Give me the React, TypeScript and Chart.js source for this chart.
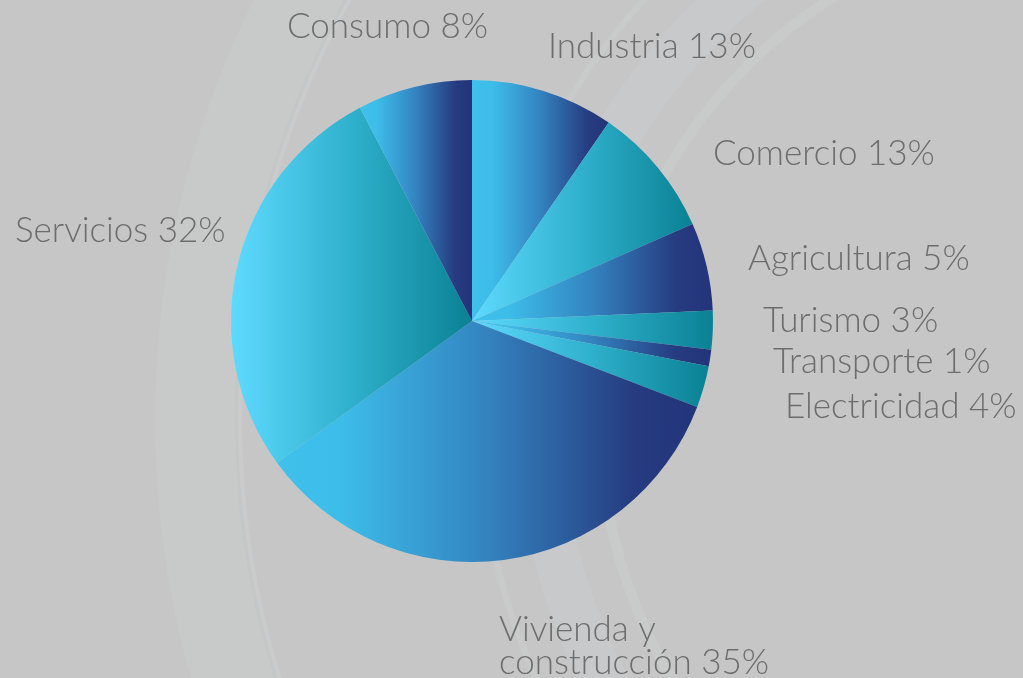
import React, { useEffect, useRef } from "react";
import { Chart, registerables } from "chart.js";

Chart.register(...registerables);

// ---- data ----
const categories = [
  "Industria",
  "Comercio",
  "Agricultura",
  "Turismo",
  "Transporte",
  "Electricidad",
  "Vivienda y construcción",
  "Servicios",
  "Consumo",
];
// slice sizes as drawn (angles)
const sliceValues = [9.6, 8.8, 5.9, 2.6, 1.1, 2.8, 34.2, 27.3, 7.7];
// percentages printed in the labels
const printedPercents = [13, 13, 5, 3, 1, 4, 35, 32, 8];
const labelLines = [
  ["Industria 13%"],
  ["Comercio 13%"],
  ["Agricultura 5%"],
  ["Turismo 3%"],
  ["Transporte 1%"],
  ["Electricidad 4%"],
  ["Vivienda y", "construcción 35%"],
  ["Servicios 32%"],
  ["Consumo 8%"],
];

// ---- styles ----
const rampKind = ["blue", "teal", "blue", "teal", "blue", "teal", "blue", "teal", "blue"];
const ramps: Record<string, [number, string][]> = {
  blue: [
    [0, "#3fc1ec"],
    [0.15, "#3dbde9"],
    [0.5, "#3383bf"],
    [0.85, "#263b80"],
    [1, "#23347a"],
  ],
  teal: [
    [0, "#5edaff"],
    [0.5, "#2fb0cc"],
    [1, "#0a8194"],
  ],
};
// label anchor (left x, baseline y) relative to the pie centre
const labelOffsets: [number, number][] = [
  [76, -263],
  [241, -156],
  [276, -51],
  [291, 11],
  [301, 52],
  [313, 97],
  [27, 320],
  [-457, -79],
  [-185, -283],
];
const LABEL_FONT = "300 35px Lato";
const LABEL_COLOR = "#6d6d6d";
const LINE_HEIGHT = 33;

function sliceGradient(chart: any, index: number) {
  const area = chart.chartArea;
  if (!area) return rampKind[index] === "blue" ? "#3383bf" : "#2fb0cc";
  const cx = (area.left + area.right) / 2;
  const cy = (area.top + area.bottom) / 2;
  const r = Math.min(area.right - area.left, area.bottom - area.top) / 2;
  const total = sliceValues.reduce((a, b) => a + b, 0);
  let a0 = -Math.PI / 2;
  for (let i = 0; i < index; i++) a0 += (sliceValues[i] / total) * Math.PI * 2;
  const a1 = a0 + (sliceValues[index] / total) * Math.PI * 2;
  const xs = [cx, cx + r * Math.cos(a0), cx + r * Math.cos(a1)];
  if (a0 <= 0 && a1 >= 0) xs.push(cx + r);
  if (a0 <= Math.PI && a1 >= Math.PI) xs.push(cx - r);
  const x0 = Math.min(...xs);
  const x1 = Math.max(...xs);
  const g = chart.ctx.createLinearGradient(x0, cy, x1, cy);
  ramps[rampKind[index]].forEach(([s, c]) => g.addColorStop(s, c));
  return g;
}

const backgroundPlugin = {
  id: "bgPlugin",
  beforeDraw(chart: any) {
    const { ctx, width, height } = chart;
    ctx.save();
    ctx.fillStyle = "#c6c6c6";
    ctx.fillRect(0, 0, width, height);
    const ox = 1100;
    const oy = 420;
    const rings: [number, number, string][] = [
      [905, 80, "rgba(204,208,210,0.35)"],
      [560, 46, "rgba(206,210,212,0.3)"],
      [500, 10, "rgba(210,214,216,0.3)"],
      [620, 6, "rgba(210,214,216,0.3)"],
      [860, 4, "rgba(210,212,214,0.35)"],
    ];
    rings.forEach(([r, w, c]) => {
      ctx.beginPath();
      ctx.strokeStyle = c;
      ctx.lineWidth = w;
      ctx.arc(ox, oy, r, 0, Math.PI * 2);
      ctx.stroke();
    });
    ctx.restore();
  },
};

const labelPlugin = {
  id: "labelPlugin",
  afterDraw(chart: any) {
    const meta = chart.getDatasetMeta(0);
    const ctx = chart.ctx;
    ctx.save();
    ctx.font = LABEL_FONT;
    ctx.fillStyle = LABEL_COLOR;
    ctx.textAlign = "left";
    ctx.textBaseline = "alphabetic";
    meta.data.forEach((arc: any, i: number) => {
      const [dx, dy] = labelOffsets[i];
      labelLines[i].forEach((line, k) => {
        ctx.fillText(line, arc.x + dx, arc.y + dy + k * LINE_HEIGHT);
      });
    });
    ctx.restore();
  },
};

export default function App() {
  const canvasRef = useRef<HTMLCanvasElement | null>(null);

  useEffect(() => {
    document.body.style.margin = "0";
    const canvas = canvasRef.current;
    if (!canvas) return;
    const chart = new Chart(canvas, {
      type: "pie",
      data: {
        labels: categories,
        datasets: [
          {
            data: sliceValues,
            backgroundColor: (ctx: any) => sliceGradient(ctx.chart, ctx.dataIndex),
            borderWidth: 0,
            hoverOffset: 0,
            offset: 0,
          },
        ],
      },
      options: {
        responsive: false,
        animation: false,
        events: [],
        layout: { padding: { left: 231, right: 310, top: 80, bottom: 116 } },
        plugins: {
          legend: { display: false },
          tooltip: { enabled: false },
          title: { display: false },
        },
      },
      plugins: [backgroundPlugin, labelPlugin],
    });
    return () => chart.destroy();
  }, []);

  return (
    <div style={{ position: "fixed", left: 0, top: 0, width: 1023, height: 678 }}>
      <canvas ref={canvasRef} width={1023} height={678} />
    </div>
  );
}
